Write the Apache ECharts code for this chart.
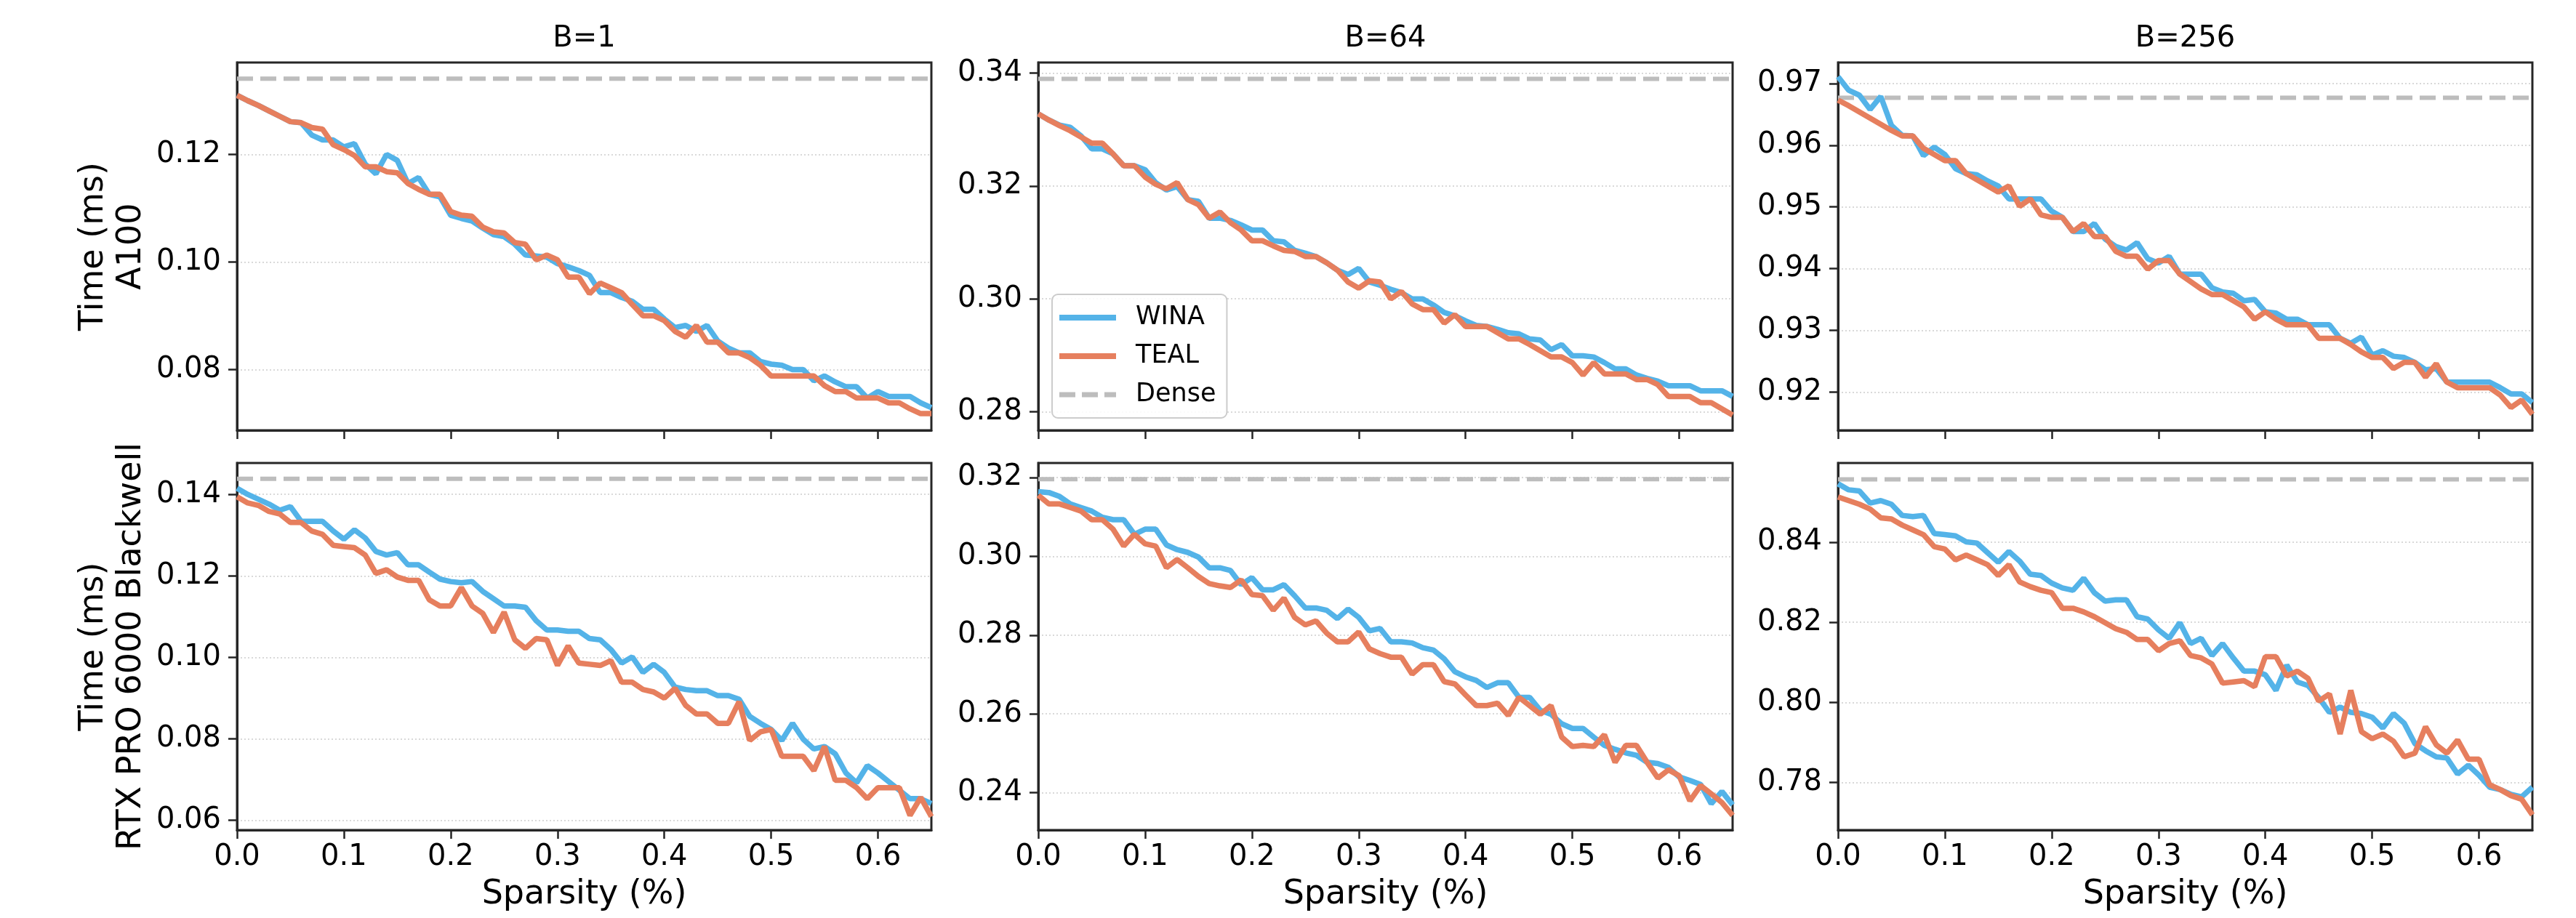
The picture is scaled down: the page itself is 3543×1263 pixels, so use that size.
<!DOCTYPE html>
<html>
<head>
<meta charset="utf-8">
<title>Sparsity vs time</title>
<script src="https://cdn.jsdelivr.net/npm/echarts@6/dist/echarts.min.js"></script>
<style>
  html, body { margin: 0; padding: 0; background: #fff; }
  #chart { width: 3543px; height: 1263px; }
</style>
</head>
<body>
<div id="chart"></div>
<script>
// x values (sparsity)
const sparsity = [0, 0.01, 0.02, 0.03, 0.04, 0.05, 0.06, 0.07, 0.08, 0.09, 0.1, 0.11, 0.12, 0.13, 0.14, 0.15, 0.16, 0.17, 0.18, 0.19,
  0.2, 0.21, 0.22, 0.23, 0.24, 0.25, 0.26, 0.27, 0.28, 0.29, 0.3, 0.31, 0.32, 0.33, 0.34, 0.35, 0.36, 0.37, 0.38, 0.39,
  0.4, 0.41, 0.42, 0.43, 0.44, 0.45, 0.46, 0.47, 0.48, 0.49, 0.5, 0.51, 0.52, 0.53, 0.54, 0.55, 0.56, 0.57, 0.58, 0.59,
  0.6, 0.61, 0.62, 0.63, 0.64, 0.65];

const batchTitles = ['B=1', 'B=64', 'B=256'];
const gpuNames = ['A100', 'RTX PRO 6000 Blackwell'];
const xTicks = [0, 0.1, 0.2, 0.3, 0.4, 0.5, 0.6];

// A100
const winaA100B1 = [0.1310, 0.1300, 0.1291, 0.1281, 0.1271, 0.1261, 0.1259, 0.1236, 0.1227, 0.1227,
  0.1214, 0.1220, 0.1182, 0.1164, 0.1200, 0.1189, 0.1146, 0.1157, 0.1126, 0.1121,
  0.1087, 0.1081, 0.1076, 0.1063, 0.1051, 0.1047, 0.1033, 0.1013, 0.1011, 0.1009,
  0.0997, 0.0991, 0.0984, 0.0975, 0.0943, 0.0943, 0.0934, 0.0927, 0.0912, 0.0912,
  0.0894, 0.0878, 0.0882, 0.0871, 0.0882, 0.0853, 0.0840, 0.0831, 0.0831, 0.0815,
  0.0810, 0.0808, 0.0800, 0.0800, 0.0779, 0.0788, 0.0777, 0.0768, 0.0768, 0.0747,
  0.0759, 0.0750, 0.0750, 0.0750, 0.0738, 0.0729];
const tealA100B1 = [0.1310, 0.1300, 0.1291, 0.1281, 0.1271, 0.1261, 0.1259, 0.1250, 0.1247, 0.1218,
  0.1209, 0.1198, 0.1177, 0.1177, 0.1168, 0.1166, 0.1146, 0.1135, 0.1126, 0.1126,
  0.1094, 0.1087, 0.1085, 0.1065, 0.1056, 0.1054, 0.1036, 0.1033, 0.1004, 0.1013,
  0.1004, 0.0972, 0.0972, 0.0941, 0.0961, 0.0952, 0.0943, 0.0921, 0.0900, 0.0900,
  0.0891, 0.0871, 0.0860, 0.0882, 0.0851, 0.0851, 0.0831, 0.0831, 0.0822, 0.0808,
  0.0788, 0.0788, 0.0788, 0.0788, 0.0788, 0.0770, 0.0759, 0.0759, 0.0747, 0.0747,
  0.0747, 0.0738, 0.0738, 0.0727, 0.0718, 0.0718];
const winaA100B64 = [0.3328, 0.3317, 0.3308, 0.3304, 0.3289, 0.3266, 0.3266, 0.3257, 0.3236, 0.3236,
  0.3229, 0.3206, 0.3193, 0.3199, 0.3176, 0.3173, 0.3143, 0.3143, 0.3139, 0.3131,
  0.3122, 0.3122, 0.3103, 0.3101, 0.3086, 0.3081, 0.3075, 0.3064, 0.3051, 0.3043,
  0.3054, 0.3030, 0.3024, 0.3017, 0.3011, 0.3000, 0.3000, 0.2989, 0.2976, 0.2970,
  0.2961, 0.2953, 0.2951, 0.2946, 0.2940, 0.2938, 0.2929, 0.2927, 0.2910, 0.2919,
  0.2899, 0.2899, 0.2897, 0.2887, 0.2876, 0.2876, 0.2865, 0.2859, 0.2854, 0.2846,
  0.2846, 0.2846, 0.2837, 0.2837, 0.2837, 0.2827];
const tealA100B64 = [0.3328, 0.3317, 0.3307, 0.3298, 0.3287, 0.3276, 0.3276, 0.3257, 0.3236, 0.3236,
  0.3216, 0.3203, 0.3195, 0.3206, 0.3176, 0.3167, 0.3143, 0.3154, 0.3135, 0.3122,
  0.3103, 0.3103, 0.3094, 0.3086, 0.3084, 0.3075, 0.3075, 0.3064, 0.3051, 0.3030,
  0.3019, 0.3032, 0.3030, 0.3000, 0.3013, 0.2991, 0.2981, 0.2981, 0.2957, 0.2972,
  0.2951, 0.2951, 0.2951, 0.2940, 0.2929, 0.2929, 0.2919, 0.2908, 0.2897, 0.2897,
  0.2887, 0.2865, 0.2887, 0.2867, 0.2867, 0.2867, 0.2857, 0.2857, 0.2848, 0.2827,
  0.2827, 0.2827, 0.2816, 0.2816, 0.2805, 0.2794];
const winaA100B256 = [0.9711, 0.9689, 0.9681, 0.9658, 0.9679, 0.9632, 0.9616, 0.9615, 0.9583, 0.9597,
  0.9585, 0.9562, 0.9554, 0.9552, 0.9542, 0.9534, 0.9513, 0.9513, 0.9513, 0.9513,
  0.9493, 0.9483, 0.9460, 0.9460, 0.9473, 0.9448, 0.9436, 0.9430, 0.9442, 0.9416,
  0.9409, 0.9420, 0.9391, 0.9391, 0.9391, 0.9369, 0.9362, 0.9360, 0.9348, 0.9350,
  0.9330, 0.9328, 0.9318, 0.9318, 0.9309, 0.9309, 0.9309, 0.9287, 0.9279, 0.9289,
  0.9260, 0.9267, 0.9258, 0.9256, 0.9248, 0.9236, 0.9238, 0.9216, 0.9216, 0.9216,
  0.9216, 0.9216, 0.9207, 0.9197, 0.9197, 0.9183];
const tealA100B256 = [0.9673, 0.9664, 0.9654, 0.9644, 0.9634, 0.9624, 0.9615, 0.9615, 0.9595, 0.9585,
  0.9575, 0.9575, 0.9554, 0.9544, 0.9534, 0.9524, 0.9534, 0.9501, 0.9513, 0.9487,
  0.9483, 0.9483, 0.9460, 0.9473, 0.9452, 0.9452, 0.9428, 0.9420, 0.9420, 0.9399,
  0.9413, 0.9413, 0.9391, 0.9379, 0.9367, 0.9358, 0.9358, 0.9348, 0.9338, 0.9318,
  0.9330, 0.9318, 0.9309, 0.9309, 0.9309, 0.9287, 0.9287, 0.9287, 0.9277, 0.9265,
  0.9256, 0.9256, 0.9238, 0.9248, 0.9248, 0.9224, 0.9246, 0.9216, 0.9207, 0.9207,
  0.9207, 0.9207, 0.9195, 0.9175, 0.9187, 0.9164];

// RTX PRO 6000 Blackwell
const winaRtxB1 = [0.1415, 0.1400, 0.1388, 0.1376, 0.1361, 0.1370, 0.1334, 0.1334, 0.1334, 0.1310,
  0.1290, 0.1313, 0.1293, 0.1260, 0.1251, 0.1257, 0.1227, 0.1227, 0.1209, 0.1192,
  0.1186, 0.1183, 0.1186, 0.1162, 0.1144, 0.1126, 0.1126, 0.1123, 0.1090, 0.1067,
  0.1067, 0.1064, 0.1064, 0.1046, 0.1043, 0.1019, 0.0986, 0.1001, 0.0963, 0.0983,
  0.0963, 0.0927, 0.0921, 0.0918, 0.0918, 0.0906, 0.0906, 0.0897, 0.0855, 0.0838,
  0.0823, 0.0796, 0.0838, 0.0799, 0.0775, 0.0781, 0.0763, 0.0716, 0.0692, 0.0734,
  0.0716, 0.0695, 0.0674, 0.0653, 0.0653, 0.0641];
const tealRtxB1 = [0.1394, 0.1379, 0.1373, 0.1358, 0.1352, 0.1331, 0.1331, 0.1310, 0.1302, 0.1275,
  0.1272, 0.1269, 0.1251, 0.1206, 0.1215, 0.1197, 0.1189, 0.1189, 0.1141, 0.1126,
  0.1126, 0.1171, 0.1126, 0.1108, 0.1061, 0.1111, 0.1043, 0.1022, 0.1046, 0.1043,
  0.0980, 0.1028, 0.0986, 0.0983, 0.0980, 0.0992, 0.0939, 0.0939, 0.0921, 0.0915,
  0.0900, 0.0924, 0.0882, 0.0861, 0.0861, 0.0838, 0.0838, 0.0891, 0.0796, 0.0817,
  0.0823, 0.0757, 0.0757, 0.0757, 0.0722, 0.0781, 0.0698, 0.0698, 0.0680, 0.0653,
  0.0680, 0.0680, 0.0680, 0.0612, 0.0656, 0.0609];
const winaRtxB64 = [0.3164, 0.3162, 0.3152, 0.3133, 0.3124, 0.3115, 0.3099, 0.3093, 0.3093, 0.3056,
  0.3069, 0.3069, 0.3029, 0.3017, 0.3010, 0.2998, 0.2971, 0.2971, 0.2964, 0.2928,
  0.2946, 0.2915, 0.2915, 0.2928, 0.2900, 0.2869, 0.2869, 0.2863, 0.2842, 0.2866,
  0.2845, 0.2811, 0.2817, 0.2783, 0.2783, 0.2780, 0.2768, 0.2762, 0.2740, 0.2707,
  0.2694, 0.2685, 0.2667, 0.2679, 0.2679, 0.2642, 0.2642, 0.2609, 0.2599, 0.2575,
  0.2563, 0.2563, 0.2541, 0.2520, 0.2510, 0.2501, 0.2495, 0.2477, 0.2474, 0.2464,
  0.2440, 0.2431, 0.2421, 0.2372, 0.2403, 0.2369];
const tealRtxB64 = [0.3155, 0.3133, 0.3133, 0.3124, 0.3115, 0.3093, 0.3093, 0.3069, 0.3026, 0.3056,
  0.3032, 0.3026, 0.2971, 0.2992, 0.2971, 0.2949, 0.2931, 0.2925, 0.2921, 0.2940,
  0.2903, 0.2900, 0.2863, 0.2894, 0.2845, 0.2826, 0.2836, 0.2805, 0.2783, 0.2783,
  0.2808, 0.2765, 0.2753, 0.2744, 0.2744, 0.2701, 0.2725, 0.2725, 0.2682, 0.2676,
  0.2648, 0.2621, 0.2621, 0.2627, 0.2596, 0.2642, 0.2621, 0.2599, 0.2621, 0.2541,
  0.2517, 0.2520, 0.2517, 0.2547, 0.2477, 0.2520, 0.2520, 0.2477, 0.2437, 0.2458,
  0.2443, 0.2379, 0.2418, 0.2397, 0.2375, 0.2342];
const winaRtxB256 = [0.8546, 0.8531, 0.8528, 0.8498, 0.8504, 0.8495, 0.8467, 0.8464, 0.8467, 0.8422,
  0.8419, 0.8416, 0.8401, 0.8398, 0.8374, 0.8350, 0.8377, 0.8353, 0.8320, 0.8317,
  0.8298, 0.8286, 0.8280, 0.8310, 0.8274, 0.8253, 0.8256, 0.8256, 0.8214, 0.8208,
  0.8181, 0.8160, 0.8199, 0.8147, 0.8160, 0.8117, 0.8147, 0.8111, 0.8078, 0.8078,
  0.8069, 0.8030, 0.8093, 0.8051, 0.8042, 0.8012, 0.7975, 0.7988, 0.7975, 0.7972,
  0.7963, 0.7936, 0.7972, 0.7948, 0.7897, 0.7879, 0.7864, 0.7861, 0.7821, 0.7843,
  0.7818, 0.7788, 0.7782, 0.7770, 0.7764, 0.7788];
const tealRtxB256 = [0.8513, 0.8504, 0.8495, 0.8483, 0.8461, 0.8458, 0.8443, 0.8431, 0.8419, 0.8389,
  0.8383, 0.8356, 0.8368, 0.8356, 0.8344, 0.8317, 0.8344, 0.8301, 0.8289, 0.8280,
  0.8274, 0.8235, 0.8235, 0.8226, 0.8214, 0.8199, 0.8184, 0.8175, 0.8157, 0.8157,
  0.8129, 0.8147, 0.8154, 0.8117, 0.8111, 0.8096, 0.8048, 0.8051, 0.8054, 0.8039,
  0.8114, 0.8114, 0.8066, 0.8078, 0.8060, 0.8003, 0.8021, 0.7921, 0.8030, 0.7927,
  0.7909, 0.7921, 0.7903, 0.7864, 0.7873, 0.7939, 0.7894, 0.7873, 0.7906, 0.7858,
  0.7858, 0.7794, 0.7782, 0.7767, 0.7758, 0.7719];

const denseValues = [[0.1341, 0.3390, 0.9677], [0.1438, 0.3196, 0.8557]];
const yMin = [[0.0687, 0.2767, 0.9138], [0.0576, 0.2305, 0.7681]];
const yMax = [[0.1371, 0.3419, 0.9734], [0.1477, 0.3237, 0.8598]];
const yTicks = [
  [[0.08, 0.10, 0.12], [0.28, 0.30, 0.32, 0.34], [0.92, 0.93, 0.94, 0.95, 0.96, 0.97]],
  [[0.06, 0.08, 0.10, 0.12, 0.14], [0.24, 0.26, 0.28, 0.30, 0.32], [0.78, 0.80, 0.82, 0.84]]
];
const winaData = [[winaA100B1, winaA100B64, winaA100B256], [winaRtxB1, winaRtxB64, winaRtxB256]];
const tealData = [[tealA100B1, tealA100B64, tealA100B256], [tealRtxB1, tealRtxB64, tealRtxB256]];

const FONT = 'DejaVu Sans';
const BLUE = '#54B3E8';
const ORANGE = '#E67F5E';
const DENSE = '#BDBDBD';
const SPINE = '#262626';

const colLeft = [326, 1428, 2528];
const colWidth = 955;
const rowTop = [86, 637];
const rowHeight = [506, 505];

const grids = [];
const xAxes = [];
const yAxes = [];
const series = [];
const graphics = [];

for (let r = 0; r < 2; r++) {
  for (let c = 0; c < 3; c++) {
    const k = r * 3 + c;
    grids.push({
      left: colLeft[c], top: rowTop[r], width: colWidth, height: rowHeight[r],
      show: true, borderColor: SPINE, borderWidth: 3, backgroundColor: 'transparent'
    });
    xAxes.push({
      type: 'value', gridIndex: k, min: 0, max: 0.65,
      splitLine: { show: false },
      axisLine: { show: true, onZero: false, lineStyle: { color: SPINE, width: 3 } },
      axisTick: { show: true, length: 12, customValues: xTicks, lineStyle: { color: SPINE, width: 2.5 } },
      axisLabel: {
        show: r === 1, customValues: xTicks, margin: 18,
        formatter: v => v.toFixed(1),
        fontSize: 40, fontFamily: FONT, color: '#000'
      },
      name: r === 1 ? 'Sparsity (%)' : '',
      nameLocation: 'middle', nameGap: 66,
      nameTextStyle: { fontSize: 46, fontFamily: FONT, color: '#000' }
    });
    yAxes.push({
      type: 'value', gridIndex: k, min: yMin[r][c], max: yMax[r][c],
      axisLine: { show: true, onZero: false, lineStyle: { color: SPINE, width: 3 } },
      axisTick: { show: true, length: 12, customValues: yTicks[r][c], lineStyle: { color: SPINE, width: 2.5 } },
      axisLabel: {
        customValues: yTicks[r][c], margin: 22,
        formatter: v => v.toFixed(2),
        fontSize: 40, fontFamily: FONT, color: '#000'
      },
      splitLine: { show: true, lineStyle: { color: '#d9d9d9', width: 2, type: [2, 3] } },
      name: c === 0 ? 'Time (ms)\n' + gpuNames[r] : '',
      nameLocation: 'middle', nameRotate: 90, nameGap: 119,
      nameTextStyle: { fontSize: 46, lineHeight: 52, fontFamily: FONT, color: '#000' }
    });

    const common = {
      type: 'line', xAxisIndex: k, yAxisIndex: k,
      symbol: 'none', showSymbol: false, silent: true, animation: false,
      emphasis: { disabled: true }
    };
    series.push(Object.assign({}, common, {
      name: 'WINA', z: 3,
      data: sparsity.map((s, i) => [s, winaData[r][c][i]]),
      lineStyle: { color: BLUE, width: 7.5 }, itemStyle: { color: BLUE }
    }));
    series.push(Object.assign({}, common, {
      name: 'TEAL', z: 4,
      data: sparsity.map((s, i) => [s, tealData[r][c][i]]),
      lineStyle: { color: ORANGE, width: 7.5 }, itemStyle: { color: ORANGE }
    }));
    series.push(Object.assign({}, common, {
      name: 'Dense', z: 2,
      data: [[0, denseValues[r][c]], [0.65, denseValues[r][c]]],
      lineStyle: { color: DENSE, width: 6, type: [22, 10] }, itemStyle: { color: DENSE }
    }));
  }
}

// column titles
for (let c = 0; c < 3; c++) {
  graphics.push({
    type: 'text', x: colLeft[c] + colWidth / 2, y: 54,
    style: {
      text: batchTitles[c], fill: '#000', font: '40px "' + FONT + '"',
      align: 'center', verticalAlign: 'middle', textAlign: 'center', textVerticalAlign: 'middle'
    }
  });
}

const chart = echarts.init(document.getElementById('chart'), null, { renderer: 'canvas' });
chart.setOption({
  animation: false,
  backgroundColor: '#fff',
  grid: grids,
  xAxis: xAxes,
  yAxis: yAxes,
  series: series,
  graphic: graphics,
  legend: {
    data: [
      { name: 'WINA', icon: 'rect', itemStyle: { color: BLUE } },
      { name: 'TEAL', icon: 'rect', itemStyle: { color: ORANGE } },
      { name: 'Dense', icon: 'path://M0,0H22V7H0Z M31,0H53V7H31Z M62,0H78V7H62Z', itemStyle: { color: DENSE } }
    ],
    orient: 'vertical', left: 1447, top: 405,
    itemWidth: 78, itemHeight: 8, itemGap: 13,
    padding: [12, 15, 12, 10],
    backgroundColor: 'rgba(255,255,255,0.85)',
    borderColor: '#cccccc', borderWidth: 2, borderRadius: 8,
    selectedMode: false,
    textStyle: { fontSize: 35, lineHeight: 40, fontFamily: FONT, color: '#000', padding: [0, 0, 0, 22] }
  }
});
</script>
</body>
</html>
